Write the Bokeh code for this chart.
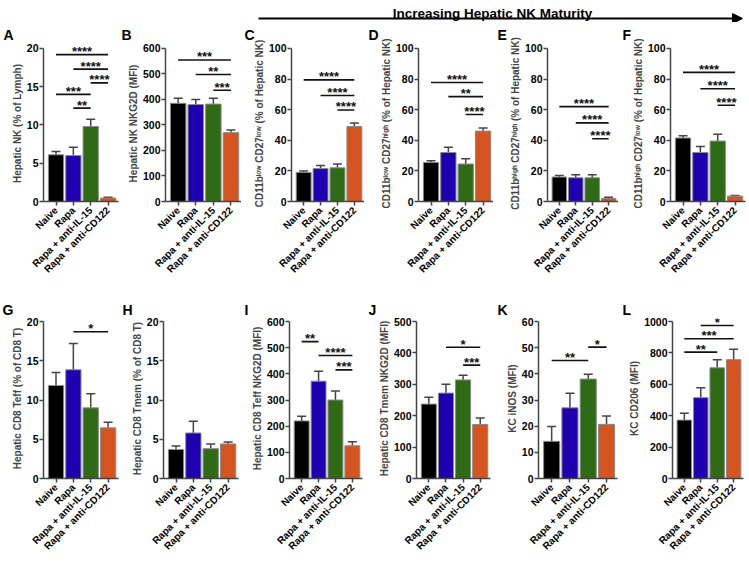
import math
from bokeh.plotting import figure
from bokeh.models import (Range1d, FixedTicker, ColumnDataSource, Whisker, TeeHead,
                          Label, Arrow, NormalHead)
from bokeh.layouts import column, row
from bokeh.core.properties import value
from bokeh.embed import file_html
from bokeh.resources import INLINE

FONT = "Liberation Sans"

groups = ["Naive", "Rapa", "Rapa + anti-IL-15", "Rapa + anti-CD122"]
colors = ["#000000", "#1f00b0", "#2f6b14", "#d6541f"]

header_text = "Increasing Hepatic NK Maturity"

# ---- data (means, SEM upper error, significance comparisons) ----
a_label = "Hepatic NK (% of Lymph)"
a_vals = [6.1, 6.0, 9.8, 0.45]
a_err = [0.45, 1.1, 0.95, 0.1]
a_sig = [(0, 3, 19.2, "****"), (1, 3, 17.3, "****"), (2, 3, 15.5, "****"),
         (0, 2, 14.0, "***"), (1, 2, 12.2, "**")]

b_label = "Hepatic NK NKG2D (MFI)"
b_vals = [385, 380, 382, 270]
b_err = [20, 20, 23, 10]
b_sig = [(0, 3, 555, "***"), (1, 3, 498, "**"), (2, 3, 436, "***")]

c_label = "CD11b\u02e1\u1d52\u02b7 CD27\u02e1\u1d52\u02b7 (% of Hepatic NK)"
c_vals = [19, 21.5, 22, 49]
c_err = [1.0, 2.0, 2.5, 2.3]
c_sig = [(0, 3, 79.5, "****"), (1, 3, 69.3, "****"), (2, 3, 59.8, "****")]

d_label = "CD11b\u02e1\u1d52\u02b7 CD27\u02b0\u2071\u1d4d\u02b0 (% of Hepatic NK)"
d_vals = [25.5, 32, 24.5, 46]
d_err = [1.2, 3.5, 3.5, 2.0]
d_sig = [(0, 3, 77.8, "****"), (1, 3, 68.5, "**"), (2, 3, 56.8, "****")]

e_label = "CD11b\u02b0\u2071\u1d4d\u02b0 CD27\u02b0\u2071\u1d4d\u02b0 (% of Hepatic NK)"
e_vals = [16, 15.5, 15.5, 2.0]
e_err = [1.0, 2.0, 2.0, 0.7]
e_sig = [(0, 3, 62.0, "****"), (1, 3, 51.4, "****"), (2, 3, 41.0, "****")]

f_label = "CD11b\u02b0\u2071\u1d4d\u02b0 CD27\u02e1\u1d52\u02b7 (% of Hepatic NK)"
f_vals = [41.5, 32, 39.5, 3.5]
f_err = [1.5, 4.0, 4.5, 0.5]
f_sig = [(0, 3, 84.4, "****"), (1, 3, 73.7, "****"), (2, 3, 62.9, "****")]

g_label = "Hepatic CD8 Teff (% of CD8 T)"
g_vals = [11.85, 13.85, 9.0, 6.45]
g_err = [1.65, 3.35, 1.8, 0.7]
g_sig = [(1, 3, 18.7, "*")]

h_label = "Hepatic CD8 Tmem (% of CD8 T)"
h_vals = [3.7, 5.8, 3.8, 4.4]
h_err = [0.45, 1.5, 0.6, 0.25]
h_sig = []

i_label = "Hepatic CD8 Teff NKG2D (MFI)"
i_vals = [220, 372, 300, 125]
i_err = [18, 38, 34, 15]
i_sig = [(0, 1, 523, "**"), (1, 3, 470, "****"), (2, 3, 415, "***")]

j_label = "Hepatic CD8 Tmem NKG2D (MFI)"
j_vals = [237, 272, 314, 172]
j_err = [22, 28, 15, 21]
j_sig = [(1, 3, 418, "*"), (2, 3, 361, "***")]

k_label = "KC iNOS (MFI)"
k_vals = [14.2, 27, 38, 20.7]
k_err = [5.7, 5.6, 1.8, 3.2]
k_sig = [(0, 2, 45.1, "**"), (2, 3, 50.2, "*")]

l_label = "KC CD206 (MFI)"
l_vals = [372, 515, 705, 757]
l_err = [44, 63, 51, 67]
l_sig = [(1, 3, 975, "*"), (0, 3, 890, "***"), (0, 2, 805, "**")]

# y-axis (max, step)
y_axes = {"A": (20, 5), "B": (600, 100), "C": (100, 20), "D": (100, 20), "E": (100, 20),
          "F": (100, 20), "G": (20, 5), "H": (20, 5), "I": (600, 100), "J": (500, 100),
          "K": (60, 10), "L": (1000, 200)}

# ---- layout (pixels) ----
COL_W = [119, 122, 123, 129, 125, 129]
TOP_LEFT = [43, 46, 50, 54, 54, 52]
TOP_FRAME = [75, 76, 73, 75, 71, 75]
BOT_LEFT = [43, 44, 48, 52, 45, 54]
BOT_FRAME = [75, 75, 73, 74, 79, 71]
TOP_LETTER_PAD = [3, 2, 3, 4, 4, 4]
BOT_LETTER_PAD = [2, 3, 3, 4, 4, 4]

HEADER_H = 22
HEAD_ROOM = 3  # px of frame above the top tick
TOP_H, TOP_T, TOP_B = 261, 21, 82
BOT_H, BOT_T, BOT_B = 277, 35, 82
XR = (-0.72, len(groups) - 0.4)


def make_panel(letter, ylabel, vals, errs, sig, width, left, frame_w, height, top, bottom,
               letter_pad, letter_gap):
    ymax, ystep = y_axes[letter]
    right = max(width - left - frame_w, 0)
    frame_h = height - top - bottom
    ytop = ymax * frame_h / (frame_h - HEAD_ROOM)
    xs = list(range(len(groups)))
    p = figure(width=width, height=height, output_backend="svg", toolbar_location=None,
               x_range=Range1d(*XR), y_range=Range1d(0, ytop),
               min_border_left=left, min_border_right=right, min_border_top=top,
               min_border_bottom=bottom)
    p.outline_line_color = None
    p.grid.visible = False
    p.background_fill_color = "white"
    p.border_fill_color = "white"

    # panel letter as the figure title, shifted left of the frame
    p.title.text = letter
    p.title.align = "left"
    p.title.offset = letter_pad - left
    p.title.standoff = letter_gap
    p.title.text_font = FONT
    p.title.text_font_style = "bold"
    p.title.text_font_size = "14px"
    p.title.text_color = "#000000"

    src = ColumnDataSource(dict(x=xs, top=vals, upper=[v + e for v, e in zip(vals, errs)],
                                color=colors))
    p.add_layout(Whisker(base="x", lower="top", upper="upper", source=src,
                         line_color="#444444", line_width=1.5,
                         upper_head=TeeHead(size=9, line_color="#444444", line_width=1.5),
                         lower_head=None))
    p.vbar(x="x", top="top", width=0.88, fill_color="color", line_color="#8a8a8a",
           line_width=1, source=src)

    for (i0, i1, yv, txt) in sig:
        p.segment(x0=[i0], y0=[yv], x1=[i1], y1=[yv], line_color="#111111", line_width=1.6)
        p.text(x=[(i0 + i1) / 2], y=[yv], text=[txt], text_align="center",
               text_baseline="alphabetic", text_font=value(FONT), text_font_style="bold",
               text_font_size="13px", text_color="#111111", y_offset=-3)

    for ax in (p.xaxis, p.yaxis):
        ax.axis_line_color = "#444444"
        ax.axis_line_width = 1.5
        ax.major_tick_line_color = "#444444"
        ax.major_tick_line_width = 1.5
        ax.major_tick_in = 0
        ax.major_tick_out = 4
        ax.minor_tick_line_color = None
        ax.major_label_text_font = FONT
        ax.major_label_text_font_style = "bold"
        ax.major_label_text_color = "#000000"

    p.yaxis.ticker = FixedTicker(ticks=list(range(0, ymax + 1, ystep)))
    p.yaxis.bounds = (0, ymax)
    p.yaxis.major_label_text_font_size = "10.5px"
    p.yaxis.major_label_standoff = 1
    p.yaxis.axis_label = ylabel
    p.yaxis.axis_label_text_font = FONT
    p.yaxis.axis_label_text_font_style = "bold"
    p.yaxis.axis_label_text_font_size = "10px"
    p.yaxis.axis_label_standoff = 1

    p.xaxis.ticker = FixedTicker(ticks=xs)
    p.xaxis.major_label_overrides = {i: g for i, g in zip(xs, groups)}
    p.xaxis.major_label_orientation = math.pi / 4
    p.xaxis.major_label_text_font_size = "10px"
    p.xaxis.major_label_standoff = 3
    return p


top_specs = [("A", a_label, a_vals, a_err, a_sig), ("B", b_label, b_vals, b_err, b_sig),
             ("C", c_label, c_vals, c_err, c_sig), ("D", d_label, d_vals, d_err, d_sig),
             ("E", e_label, e_vals, e_err, e_sig), ("F", f_label, f_vals, f_err, f_sig)]
bot_specs = [("G", g_label, g_vals, g_err, g_sig), ("H", h_label, h_vals, h_err, h_sig),
             ("I", i_label, i_vals, i_err, i_sig), ("J", j_label, j_vals, j_err, j_sig),
             ("K", k_label, k_vals, k_err, k_sig), ("L", l_label, l_vals, l_err, l_sig)]

top_row = [make_panel(s[0], s[1], s[2], s[3], s[4], COL_W[k], TOP_LEFT[k], TOP_FRAME[k],
                      TOP_H, TOP_T, TOP_B, TOP_LETTER_PAD[k], 5)
           for k, s in enumerate(top_specs)]
bot_row = [make_panel(s[0], s[1], s[2], s[3], s[4], COL_W[k], BOT_LEFT[k], BOT_FRAME[k],
                      BOT_H, BOT_T, BOT_B, BOT_LETTER_PAD[k], 2)
           for k, s in enumerate(bot_specs)]

total_w = sum(COL_W)
hdr = figure(width=total_w, height=HEADER_H, output_backend="svg", toolbar_location=None,
             x_range=Range1d(0, total_w), y_range=Range1d(0, HEADER_H),
             x_axis_location=None, y_axis_location=None,
             min_border=0, min_border_left=0, min_border_right=0, min_border_top=0,
             min_border_bottom=0)
hdr.grid.visible = False
hdr.outline_line_color = None
hdr.add_layout(Arrow(x_start=258, y_start=4, x_end=742, y_end=4, line_width=2.2,
                     line_color="black",
                     end=NormalHead(size=10, fill_color="black", line_color="black")))
hdr.add_layout(Label(x=492, y=9.5, text=header_text, text_align="center", text_font=FONT,
                     text_font_style="bold", text_font_size="13.5px", text_color="black",
                     text_baseline="alphabetic"))

layout = column(hdr, row(*top_row), row(*bot_row))
open("out.html", "w").write(file_html(layout, INLINE))
